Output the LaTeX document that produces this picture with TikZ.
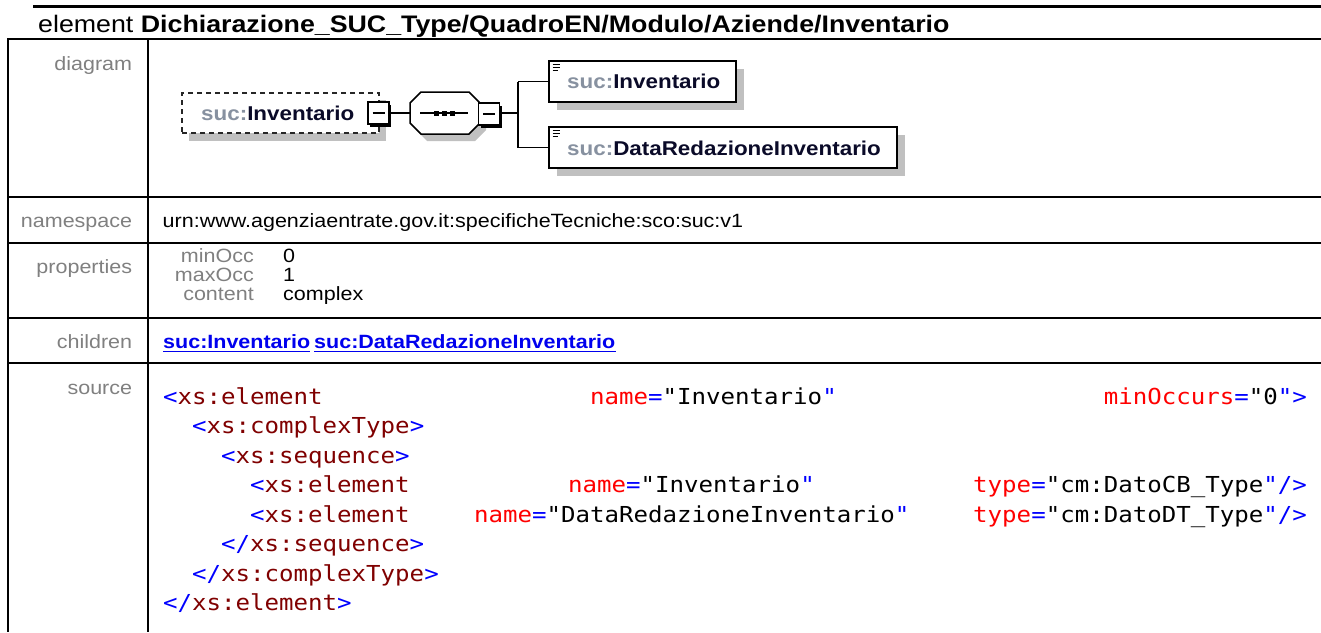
\documentclass[tikz,border=0pt]{standalone}
\usepackage{fontspec}
\setmainfont[FakeStretch=1.12]{Liberation Sans}
\newfontfamily\codefam[FakeStretch=1.095]{DejaVu Sans Mono}
\definecolor{labelgray}{RGB}{128,128,128}
\definecolor{shadowgray}{RGB}{192,192,192}
\definecolor{linkblue}{RGB}{0,0,238}
\definecolor{xmlblue}{RGB}{0,0,255}
\definecolor{xmltagc}{RGB}{128,0,0}
\definecolor{xmlattc}{RGB}{255,0,0}
\definecolor{prefixc}{RGB}{135,145,160}
\definecolor{namec}{RGB}{10,10,40}
\newcommand\bodysize{\fontsize{19.2}{25}\selectfont}
\newcommand\diagsize{\fontsize{20}{24}\selectfont}
\newcommand\titlesize{\fontsize{23.9}{28}\selectfont}
\newcommand\codesize{\codefam\fontsize{22}{30}\selectfont}
\newcommand\xb[1]{\textcolor{xmlblue}{#1}}
\newcommand\xt[1]{\textcolor{xmltagc}{#1}}
\newcommand\xa[1]{\textcolor{xmlattc}{#1}}
\newcommand\qn[1]{\textcolor{prefixc}{suc:}\textcolor{namec}{#1}}
\tikzset{
  lbl/.style={anchor=base east, inner sep=0pt, text=labelgray, font=\bodysize},
  txt/.style={anchor=base west, inner sep=0pt, font=\bodysize},
  linktxt/.style={anchor=base west, inner sep=0pt, font=\bodysize\bfseries, text=linkblue},
  codew/.style={anchor=base west, inner sep=0pt, font=\codesize},
  codee/.style={anchor=base east, inner sep=0pt, font=\codesize},
  tblline/.style={line width=2pt},
  elbox/.style={draw=black, fill=white, line width=1.5pt, inner sep=0pt},
  optbox/.style={draw=black!85, fill=white, line width=1.5pt, dash pattern=on 5pt off 4pt, inner sep=0pt},
  minusbox/.style={draw=black, fill=white, line width=1.5pt, inner sep=0pt, minimum width=21pt, minimum height=22pt},
  conn/.style={line width=1.5pt},
  diagtxt/.style={anchor=base west, inner sep=0pt, font=\diagsize\bfseries},
}
\begin{document}
\begin{tikzpicture}[x=1pt,y=-1pt]
\useasboundingbox (0,0) rectangle (1321,632);
\fill[white] (0,0) rectangle (1321,632);
% title
\draw[line width=2.5pt] (33,6.7) -- (1321,6.7);
\node[anchor=base west, inner sep=0pt, font=\titlesize] (title) at (38,32)
  {element \textbf{Dichiarazione\_SUC\_Type/QuadroEN/Modulo/Aziende/Inventario}};
% table grid
\draw[tblline] (8,39) -- (1321,39);
\draw[tblline] (8,196.7) -- (1321,196.7);
\draw[tblline] (8,242.7) -- (1321,242.7);
\draw[tblline] (8,317.7) -- (1321,317.7);
\draw[tblline] (8,363.3) -- (1321,363.3);
\draw[tblline] (8,38) -- (8,632);
\draw[tblline] (147.7,38) -- (147.7,632);
% left labels
\node[lbl] (ldiag) at (132.3,70.5) {diagram};
\node[lbl] (lns) at (132.3,227.3) {namespace};
\node[lbl] (lprop) at (132.3,273.3) {properties};
\node[lbl] (lchild) at (132.3,348.3) {children};
\node[lbl] (lsrc) at (132.3,394) {source};
% namespace
\node[txt] (ns) at (162.5,227.3) {urn:www.agenziaentrate.gov.it:specificheTecniche:sco:suc:v1};
% properties
\node[lbl] (pmin) at (254,262.5) {minOcc};
\node[lbl] (pmax) at (254,281.5) {maxOcc};
\node[lbl] (pcon) at (254,300.5) {content};
\node[txt] (vmin) at (283,262.5) {0};
\node[txt] (vmax) at (283,281.5) {1};
\node[txt] (vcon) at (283,300.5) {complex};
% children
\node[linktxt] (ch1) at (163,348.3) {suc:Inventario};
\node[linktxt] (ch2) at (314,348.3) {suc:DataRedazioneInventario};
\draw[linkblue, line width=1.3pt] ([yshift=-3pt]ch1.base west) -- ([yshift=-3pt]ch1.base east);
\draw[linkblue, line width=1.3pt] ([yshift=-3pt]ch2.base west) -- ([yshift=-3pt]ch2.base east);
% source code
\node[codew] (s1a) at (163,404) {\xb{<}\xt{xs:element}};
\node[codew] (s1b) at (590,404) {\xa{name}\xb{=}"Inventario\xb{"}};
\node[codee] (s1c) at (1307,404) {\xa{minOccurs}\xb{=}"0\xb{">}};
\node[codew] (s2) at (192,433.5) {\xb{<}\xt{xs:complexType}\xb{>}};
\node[codew] (s3) at (221,463) {\xb{<}\xt{xs:sequence}\xb{>}};
\node[codew] (s4a) at (250,492.5) {\xb{<}\xt{xs:element}};
\node[codew] (s4b) at (568,492.5) {\xa{name}\xb{=}"Inventario\xb{"}};
\node[codee] (s4c) at (1307,492.5) {\xa{type}\xb{=}"cm:DatoCB\_Type\xb{"/>}};
\node[codew] (s5a) at (250,522) {\xb{<}\xt{xs:element}};
\node[codew] (s5b) at (474,522) {\xa{name}\xb{=}"DataRedazioneInventario\xb{"}};
\node[codee] (s5c) at (1307,522) {\xa{type}\xb{=}"cm:DatoDT\_Type\xb{"/>}};
\node[codew] (s6) at (221,551.5) {\xb{</}\xt{xs:sequence}\xb{>}};
\node[codew] (s7) at (192,581) {\xb{</}\xt{xs:complexType}\xb{>}};
\node[codew] (s8) at (163,610.5) {\xb{</}\xt{xs:element}\xb{>}};
% ---------- diagram ----------
% main element (optional, dashed)
\fill[shadowgray] (189,100) rectangle (386,141);
\node[optbox, minimum width=197pt, minimum height=40pt] (root) at (280.5,113) {};
\node[diagtxt] (roottxt) at (201,120) {\qn{Inventario}};
\fill[black] (370,105) rectangle (391,127);
\node[minusbox] (m1) at (378.5,113) {};
\draw[line width=1.5pt] (372.5,113) -- (384.5,113);
% sequence compositor
\fill[shadowgray] (416,110) -- (427,99) -- (475,99) -- (486,110) -- (486,130) -- (475,141) -- (427,141) -- (416,130) -- cycle;
\draw[line width=1.5pt, fill=white] (410,103) -- (421,92) -- (469,92) -- (480,103) -- (480,123) -- (469,134) -- (421,134) -- (410,123) -- cycle;
\node[inner sep=0pt, minimum width=70pt, minimum height=42pt] (seq) at (445,113) {};
\draw[line width=1.5pt] (420,113) -- (468,113);
\fill[black] (433.5,110.5) rectangle (438.5,115.5);
\fill[black] (441.5,110.5) rectangle (446.5,115.5);
\fill[black] (449.5,110.5) rectangle (454.5,115.5);
\fill[black] (480.5,105.5) rectangle (501.5,127.5);
\node[minusbox] (m2) at (489,114) {};
\draw[line width=1.5pt] (483,114) -- (495,114);
\draw[conn] (m1.east |- root.east) -- (seq.west);
% branches
\coordinate (bj) at (518,113);
\coordinate (bt) at (518,81.5);
\coordinate (bb) at (518,147.5);
\draw[conn] (m2.east |- bj) -- (bj);
\draw[line width=2pt] (bt) -- (bb);
% child 1
\fill[shadowgray] (557,69) rectangle (744,110);
\node[elbox, minimum width=187pt, minimum height=41pt] (c1) at (642.5,81.5) {};
\draw[line width=1pt] (552.5,64.5) -- (560,64.5) (552.5,67.3) -- (560,67.3) (552.5,70.1) -- (558,70.1);
\node[diagtxt] (c1txt) at (567,88.5) {\qn{Inventario}};
% child 2
\fill[shadowgray] (557,135) rectangle (905,176);
\node[elbox, minimum width=348pt, minimum height=41pt] (c2) at (723,147.5) {};
\draw[line width=1pt] (552.5,130.5) -- (560,130.5) (552.5,133.3) -- (560,133.3) (552.5,136.1) -- (558,136.1);
\node[diagtxt] (c2txt) at (567,155) {\qn{DataRedazioneInventario}};
\draw[conn] (bt) -- (c1.west);
\draw[conn] (bb) -- (c2.west);
\end{tikzpicture}
\end{document}
